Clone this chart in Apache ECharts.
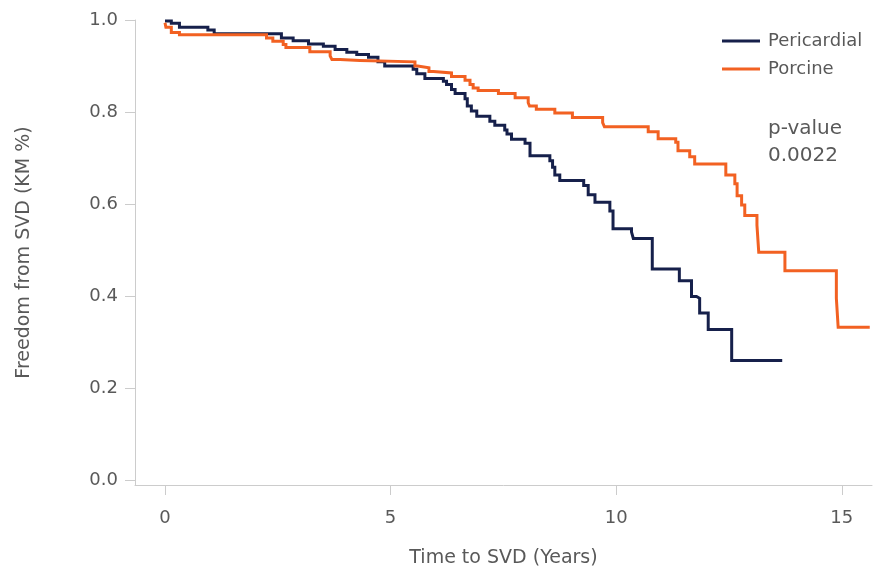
<!DOCTYPE html>
<html>
<head>
<meta charset="utf-8">
<script src="https://cdn.jsdelivr.net/npm/echarts@6/dist/echarts.min.js"></script>
<style>
  html, body { margin: 0; padding: 0; background: #ffffff; }
  #chart { width: 873px; height: 573px; }
</style>
</head>
<body>
<div id="chart"></div>
<script>
// ---- Data ----
const seriesNames = ['Pericardial', 'Porcine'];

const periTime = [0, 0.14, 0.32, 0.95, 1.09, 2.58, 2.84, 3.18, 3.51, 3.77, 4.03, 4.25, 4.51, 4.72, 4.87,
  5.50, 5.58, 5.76, 6.17, 6.24, 6.35, 6.43, 6.65, 6.70, 6.79, 6.91, 7.20, 7.31, 7.53, 7.58, 7.68,
  7.98, 8.09, 8.53, 8.59, 8.64, 8.75, 9.28, 9.38, 9.53, 9.86, 9.93, 10.34, 10.38, 10.80, 11.40,
  11.67, 11.78, 11.85, 12.04, 12.56, 13.68];
const periSurv = [0.998, 0.993, 0.984, 0.978, 0.970, 0.961, 0.955, 0.948, 0.943, 0.936, 0.930, 0.925, 0.919, 0.909, 0.900,
  0.893, 0.883, 0.873, 0.867, 0.860, 0.849, 0.840, 0.829, 0.813, 0.802, 0.791, 0.780, 0.771, 0.761, 0.752, 0.741,
  0.732, 0.705, 0.694, 0.680, 0.663, 0.651, 0.640, 0.620, 0.604, 0.585, 0.546, 0.539, 0.525, 0.459, 0.433,
  0.399, 0.395, 0.363, 0.327, 0.260, 0.260];

const porcTime = [0, 0.02, 0.14, 0.32, 2.25, 2.39, 2.62, 2.68, 3.21, 3.66, 3.70, 3.88, 4.32, 5.54, 5.60,
  5.85, 5.95, 6.35, 6.65, 6.76, 6.83, 6.94, 7.39, 7.76, 8.05, 8.08, 8.23, 8.64, 9.03, 9.70, 9.74,
  10.71, 10.93, 11.32, 11.37, 11.63, 11.74, 12.43, 12.63, 12.68, 12.78, 12.85, 13.12, 13.16, 13.74,
  14.88, 14.92, 15.62];
const porcSurv = [0.994, 0.984, 0.973, 0.968, 0.961, 0.954, 0.947, 0.940, 0.931, 0.922, 0.914, 0.912, 0.909, 0.900, 0.896,
  0.888, 0.885, 0.877, 0.869, 0.860, 0.852, 0.847, 0.840, 0.831, 0.820, 0.813, 0.806, 0.798, 0.788, 0.777, 0.768,
  0.757, 0.742, 0.734, 0.716, 0.703, 0.687, 0.663, 0.644, 0.618, 0.598, 0.575, 0.554, 0.495, 0.455,
  0.395, 0.332, 0.332];

const xTicks = [0, 5, 10, 15];
const yTicks = [0, 0.2, 0.4, 0.6, 0.8, 1.0];
const pValueLabel = 'p-value';
const pValue = '0.0022';

// ---- Chart ----
const zip = (a, b) => a.map((v, i) => [v, b[i]]);
const FONT = 'DejaVu Sans';
const TXT = '#595959';
const AX = '#cccccc';

const chart = echarts.init(document.getElementById('chart'), null, { renderer: 'canvas' });
chart.setOption({
  animation: false,
  backgroundColor: '#ffffff',
  textStyle: { fontFamily: FONT },
  grid: { left: 135, right: 1, top: 20, bottom: 85, containLabel: false },
  legend: {
    orient: 'vertical',
    left: 717,
    top: 27,
    icon: 'rect',
    itemWidth: 38,
    itemHeight: 3,
    itemGap: 10,
    data: seriesNames,
    textStyle: { fontFamily: FONT, fontSize: 18, color: TXT, padding: [0, 0, 0, 3] }
  },
  xAxis: {
    type: 'value',
    min: -0.665,
    max: 15.67,
    name: 'Time to SVD (Years)',
    nameLocation: 'middle',
    nameGap: 64,
    nameTextStyle: { fontFamily: FONT, fontSize: 19, color: TXT },
    splitLine: { show: false },
    axisLine: { show: true, onZero: false, lineStyle: { color: AX, width: 1 } },
    axisTick: { show: true, length: 10, customValues: xTicks, lineStyle: { color: AX, width: 1 } },
    axisLabel: { customValues: xTicks, margin: 24, fontFamily: FONT, fontSize: 18, color: TXT,
      formatter: v => String(v) }
  },
  yAxis: {
    type: 'value',
    min: -0.0108,
    max: 1.0,
    name: 'Freedom from SVD (KM %)',
    nameLocation: 'middle',
    nameGap: 101,
    nameTextStyle: { fontFamily: FONT, fontSize: 19, color: TXT },
    splitLine: { show: false },
    axisLine: { show: true, onZero: false, lineStyle: { color: AX, width: 1 } },
    axisTick: { show: true, length: 10, customValues: yTicks, lineStyle: { color: AX, width: 1 } },
    axisLabel: { customValues: yTicks, margin: 17, fontFamily: FONT, fontSize: 18, color: TXT,
      formatter: v => v.toFixed(1) }
  },
  graphic: [{
    type: 'text',
    left: 768,
    top: 115,
    style: {
      text: pValueLabel + '\n' + pValue,
      fontFamily: FONT,
      fontSize: 20,
      lineHeight: 27,
      fill: TXT
    }
  }],
  series: [
    {
      name: seriesNames[0],
      type: 'line',
      step: 'end',
      showSymbol: false,
      symbol: 'none',
      color: '#16204b',
      lineStyle: { width: 3, color: '#16204b', cap: 'butt', join: 'miter' },
      emphasis: { disabled: true },
      data: zip(periTime, periSurv)
    },
    {
      name: seriesNames[1],
      type: 'line',
      step: 'end',
      showSymbol: false,
      symbol: 'none',
      color: '#f26122',
      lineStyle: { width: 3, color: '#f26122', cap: 'butt', join: 'miter' },
      emphasis: { disabled: true },
      data: zip(porcTime, porcSurv)
    }
  ]
});
</script>
</body>
</html>
